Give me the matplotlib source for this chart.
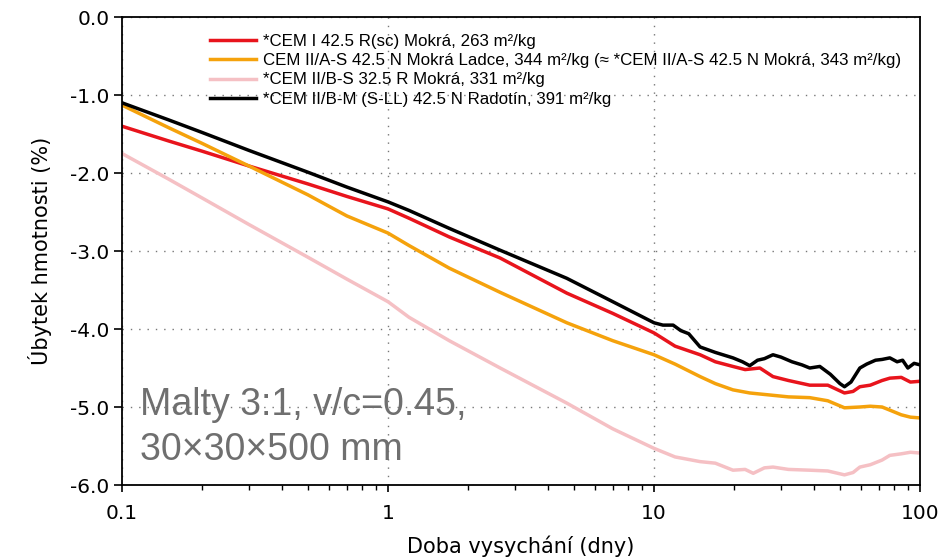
import matplotlib
matplotlib.use("Agg")
import matplotlib.pyplot as plt
from matplotlib.ticker import FixedLocator, FuncFormatter, LogLocator, NullFormatter

# Drying time (days) and mass loss (%) for each mortar
t_red = [0.1, 0.15, 0.2, 0.3, 0.5, 0.7, 1.0, 1.2, 1.7, 2.64, 4.7, 7.0, 10.0, 12.0, 14.9,
         17.0, 19.8, 22.0, 25.0, 28.0, 32.0, 38.5, 45.0, 52.0, 56.0, 59.4, 65.0, 72.0, 77.0,
         85.0, 92.0, 100.0]
v_red = [-1.40, -1.59, -1.72, -1.91, -2.14, -2.30, -2.46, -2.58, -2.82, -3.09, -3.54, -3.80,
         -4.05, -4.22, -4.33, -4.42, -4.48, -4.52, -4.50, -4.61, -4.66, -4.72, -4.72, -4.82,
         -4.80, -4.74, -4.72, -4.66, -4.63, -4.62, -4.68, -4.67]

t_orange = [0.1, 0.15, 0.2, 0.3, 0.5, 0.7, 1.0, 1.2, 1.7, 2.64, 4.7, 7.0, 10.0, 12.0, 14.9,
            17.0, 19.8, 22.9, 28.0, 32.0, 38.5, 45.0, 52.0, 59.4, 65.0, 72.0, 77.0, 85.0,
            92.0, 100.0]
v_orange = [-1.13, -1.42, -1.62, -1.91, -2.28, -2.55, -2.77, -2.93, -3.22, -3.53, -3.92,
            -4.15, -4.33, -4.45, -4.61, -4.70, -4.78, -4.82, -4.85, -4.87, -4.88, -4.92,
            -5.01, -5.00, -4.99, -5.00, -5.04, -5.10, -5.13, -5.14]

t_pink = [0.1, 0.15, 0.2, 0.3, 0.5, 0.7, 1.0, 1.2, 1.7, 2.64, 4.7, 7.0, 10.0, 12.0, 14.9,
          17.0, 19.8, 22.0, 23.6, 26.0, 28.0, 32.0, 38.5, 45.0, 52.0, 56.0, 59.4, 65.0,
          72.0, 77.0, 85.0, 92.0, 100.0]
v_pink = [-1.75, -2.08, -2.32, -2.66, -3.08, -3.36, -3.65, -3.85, -4.15, -4.50, -4.95, -5.28,
          -5.53, -5.64, -5.70, -5.72, -5.81, -5.80, -5.85, -5.78, -5.77, -5.80, -5.81, -5.82,
          -5.87, -5.84, -5.77, -5.74, -5.68, -5.62, -5.60, -5.58, -5.59]

t_black = [0.1, 0.15, 0.2, 0.3, 0.5, 0.7, 1.0, 1.2, 1.7, 2.64, 4.7, 7.0, 10.0, 10.8, 11.8,
           12.6, 13.5, 14.9, 17.0, 19.8, 21.5, 22.9, 24.5, 26.0, 28.0, 30.0, 33.0, 36.0,
           38.5, 42.0, 46.0, 50.0, 52.0, 55.0, 59.4, 63.0, 68.0, 72.0, 77.0, 82.0, 86.0,
           90.0, 95.0, 100.0]
v_black = [-1.10, -1.32, -1.48, -1.71, -1.99, -2.18, -2.37, -2.48, -2.71, -2.99, -3.35, -3.65,
           -3.92, -3.95, -3.95, -4.02, -4.06, -4.23, -4.30, -4.37, -4.42, -4.47, -4.40, -4.38,
           -4.33, -4.36, -4.42, -4.46, -4.50, -4.48, -4.58, -4.70, -4.74, -4.68, -4.50,
           -4.45, -4.40, -4.39, -4.37, -4.42, -4.40, -4.50, -4.44, -4.46]

labels = [
    "*CEM I 42.5 R(sc) Mokrá, 263 m²/kg",
    "CEM II/A-S 42.5 N Mokrá Ladce, 344 m²/kg (≈ *CEM II/A-S 42.5 N Mokrá, 343 m²/kg)",
    "*CEM II/B-S 32.5 R Mokrá, 331 m²/kg",
    "*CEM II/B-M (S-LL) 42.5 N Radotín, 391 m²/kg",
]
colors = ["#e8141c", "#f5a20c", "#f5c0c4", "#000000"]

y_ticks = [0.0, -1.0, -2.0, -3.0, -4.0, -5.0, -6.0]
x_ticks = [0.1, 1, 10, 100]
x_tick_labels = ["0.1", "1", "10", "100"]

fig = plt.figure(figsize=(9.48, 5.58), dpi=100)
ax = fig.add_axes([0.1287, 0.1308, 0.8418, 0.8387])

series = [(t_red, v_red), (t_orange, v_orange), (t_pink, v_pink), (t_black, v_black)]
for (t, v), c, lab in zip(series, colors, labels):
    ax.plot(t, v, color=c, lw=2.5, label=lab, solid_joinstyle="round")

ax.set_xscale("log")
ax.set_xlim(0.1, 100)
ax.set_ylim(-6.0, 0.0)
ax.xaxis.set_major_locator(FixedLocator(x_ticks))
ax.xaxis.set_major_formatter(FuncFormatter(lambda v, p: x_tick_labels[x_ticks.index(v)] if v in x_ticks else ""))
ax.xaxis.set_minor_locator(LogLocator(base=10, subs=range(2, 10)))
ax.xaxis.set_minor_formatter(NullFormatter())
ax.yaxis.set_major_locator(FixedLocator(y_ticks))
ax.yaxis.set_major_formatter(FuncFormatter(lambda v, p: f"{v:.1f}"))

ax.grid(True, which="major", linestyle=(0, (1, 5)), color="#777777", lw=1.0)
for s in ax.spines.values():
    s.set_linewidth(1.3)
ax.tick_params(axis="both", which="major", direction="out", length=6, width=1.2,
               labelsize=14.5, colors="black")
ax.tick_params(axis="y", which="major", pad=3)
ax.tick_params(axis="x", which="minor", direction="out", length=3.5, width=1.0)
ax.tick_params(axis="x", which="major", length=5, pad=9)

ax.set_xlabel("Doba vysychání (dny)", fontsize=15, labelpad=9)
ax.set_ylabel("Úbytek hmotnosti (%)", fontsize=15, labelpad=13)

leg = ax.legend(loc="upper left", bbox_to_anchor=(0.110, 0.963), frameon=False,
                prop={"family": "Liberation Sans", "size": 12.2}, handlelength=2.7,
                handletextpad=0.45, labelspacing=0.24, borderpad=0, borderaxespad=0)

ax.text(0.0226, 0.150, "Malty 3:1, v/c=0.45,", transform=ax.transAxes,
        fontsize=27, color="#6f6f6f", family="Liberation Sans",
        ha="left", va="baseline")
ax.text(0.0226, 0.053, "30×30×500 mm", transform=ax.transAxes,
        fontsize=27, color="#6f6f6f", family="Liberation Sans",
        ha="left", va="baseline")

fig.savefig("out.png", dpi=100)
